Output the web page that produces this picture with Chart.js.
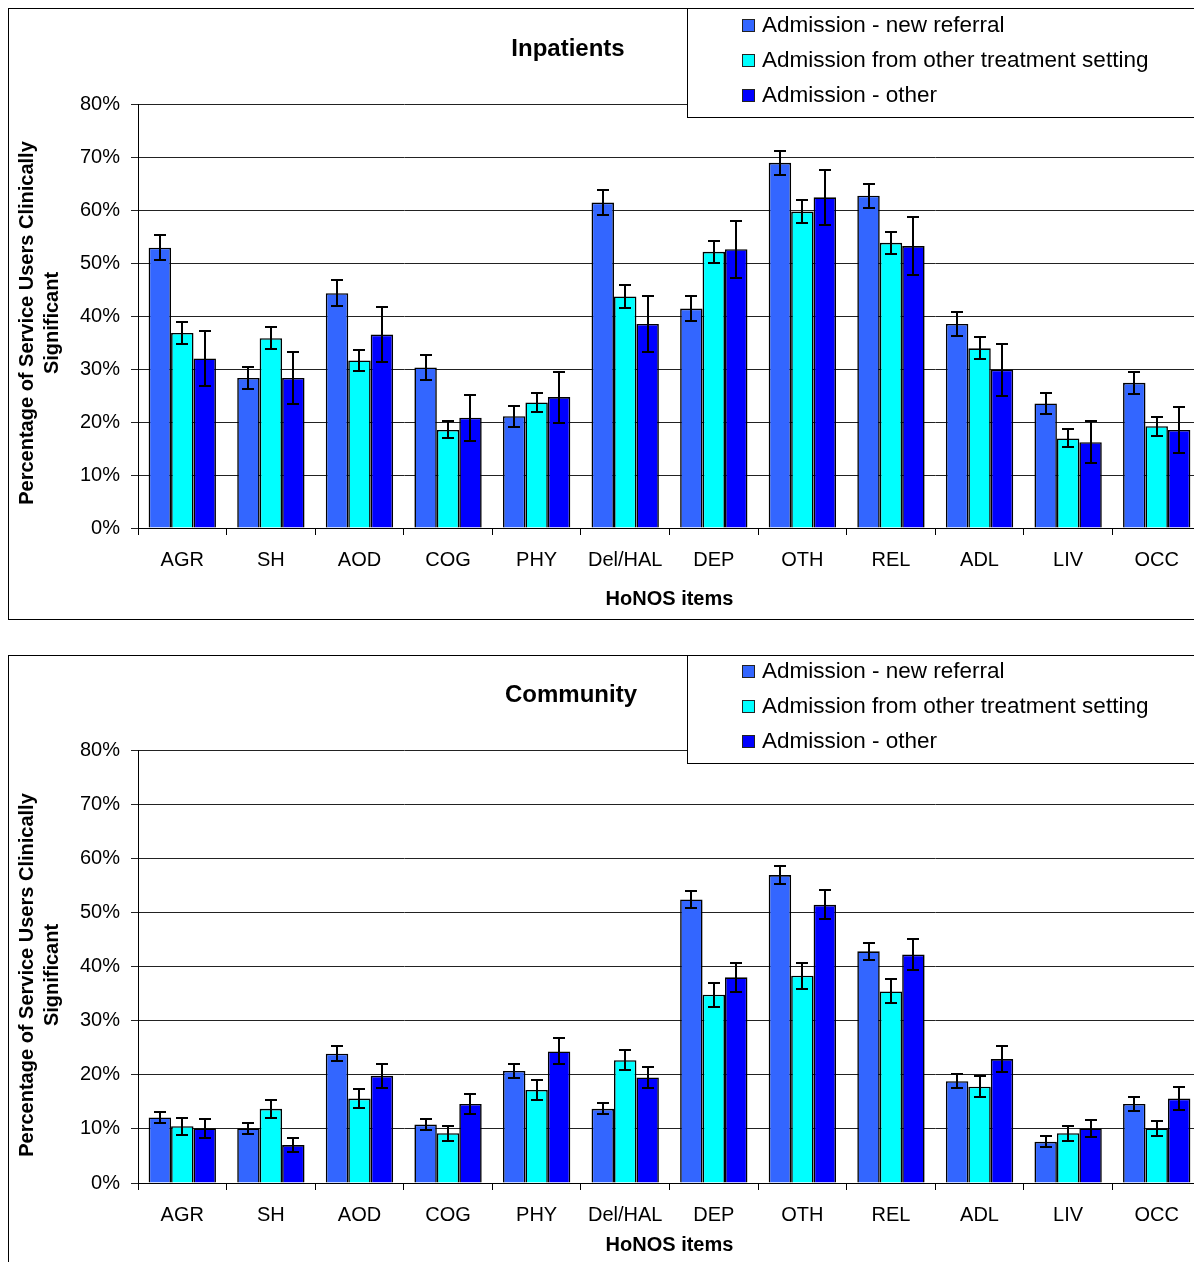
<!DOCTYPE html>
<html>
<head>
<meta charset="utf-8">
<script src="https://cdn.jsdelivr.net/npm/chart.js@4.4.1/dist/chart.umd.min.js"></script>
<style>
  body { margin: 0; background: #fff; }
  .panel { position: absolute; left: 8px; width: 1200px; height: 610px; border: 1px solid #000; background: #fff; }
  #p1 { top: 8px; }
  #p2 { top: 655px; }
  canvas { display: block; }
</style>
</head>
<body>
<div class="panel" id="p1"><canvas id="inpatients-chart" width="1200" height="610"></canvas></div>
<div class="panel" id="p2"><canvas id="community-chart" width="1200" height="610"></canvas></div>
<script>
const categories = ["AGR", "SH", "AOD", "COG", "PHY", "Del/HAL", "DEP", "OTH", "REL", "ADL", "LIV", "OCC"];
const seriesNames = ["Admission - new referral", "Admission from other treatment setting", "Admission - other"];
const seriesColors = ["#3366FF", "#00FFFF", "#0000FF"];
const yTicks = [0, 10, 20, 30, 40, 50, 60, 70, 80];

// Inpatients (% clinically significant) and error bar half-widths
const inpNew = [52.9, 28.3, 44.3, 30.3, 21.1, 61.4, 41.4, 68.9, 62.7, 38.5, 23.5, 27.4];
const inpNewErr = [2.3, 2.1, 2.4, 2.3, 2.0, 2.3, 2.4, 2.3, 2.3, 2.3, 2.0, 2.1];
const inpSetting = [36.8, 35.8, 31.6, 18.5, 23.7, 43.7, 52.1, 59.7, 53.8, 33.9, 16.9, 19.2];
const inpSettingErr = [2.1, 2.1, 2.0, 1.6, 1.8, 2.2, 2.1, 2.1, 2.1, 2.1, 1.7, 1.8];
const inpOther = [32.0, 28.3, 36.5, 20.8, 24.7, 38.5, 52.6, 62.4, 53.2, 29.9, 16.2, 18.5];
const inpOtherErr = [5.2, 4.9, 5.2, 4.3, 4.8, 5.2, 5.4, 5.2, 5.4, 4.9, 3.9, 4.3];

// Community
const comNew = [12.1, 10.1, 23.9, 10.8, 20.7, 13.7, 52.4, 56.9, 42.8, 18.8, 7.6, 14.6];
const comNewErr = [1.0, 1.0, 1.4, 1.0, 1.3, 1.0, 1.6, 1.6, 1.6, 1.3, 1.0, 1.3];
const comSetting = [10.5, 13.7, 15.6, 9.2, 17.2, 22.7, 34.8, 38.3, 35.4, 17.8, 9.2, 10.1];
const comSettingErr = [1.6, 1.6, 1.8, 1.4, 1.9, 1.9, 2.2, 2.4, 2.2, 1.9, 1.4, 1.4];
const comOther = [10.1, 7.0, 19.8, 14.6, 24.3, 19.5, 38.0, 51.4, 42.2, 22.9, 10.1, 15.6];
const comOtherErr = [1.7, 1.3, 2.2, 1.9, 2.4, 2.0, 2.7, 2.7, 2.9, 2.4, 1.6, 2.2];

const FONT = "'Liberation Sans', Arial, sans-serif";

const errorBars = {
  id: 'errorBars',
  afterDatasetsDraw(chart, args, opts) {
    const ctx = chart.ctx;
    const y = chart.scales.y;
    ctx.save();
    ctx.strokeStyle = '#000';
    ctx.lineWidth = 2;
    chart.data.datasets.forEach(function (ds, i) {
      const meta = chart.getDatasetMeta(i);
      meta.data.forEach(function (bar, j) {
        const v = ds.data[j], e = ds.errors[j];
        const top = Math.round(y.getPixelForValue(v + e));
        const bot = Math.round(y.getPixelForValue(v - e));
        const x = Math.round(bar.x);
        ctx.beginPath();
        ctx.moveTo(x, top); ctx.lineTo(x, bot);
        ctx.moveTo(x - 6, top); ctx.lineTo(x + 6, top);
        ctx.moveTo(x - 6, bot); ctx.lineTo(x + 6, bot);
        ctx.stroke();
      });
    });
    ctx.restore();
  }
};

const decor = {
  id: 'decor',
  afterDraw(chart, args, opts) {
    const ctx = chart.ctx;
    ctx.save();
    // panel title
    ctx.fillStyle = '#000';
    ctx.font = 'bold 24px ' + FONT;
    ctx.textAlign = 'center';
    ctx.textBaseline = 'middle';
    ctx.fillText(opts.title, opts.titleX, opts.titleY);

    // y axis title, two lines
    ctx.save();
    ctx.translate(18, opts.yTitleY);
    ctx.rotate(-Math.PI / 2);
    ctx.font = 'bold 20px ' + FONT;
    ctx.fillText("Percentage of Service Users Clinically", 0, 0);
    ctx.fillText("Significant", 0, 25);
    ctx.restore();

    // legend box
    ctx.fillStyle = '#fff';
    ctx.strokeStyle = '#000';
    ctx.lineWidth = 1;
    ctx.fillRect(678, -1, 700, opts.legendBottom + 1);
    ctx.strokeRect(678.5, -1, 700, opts.legendBottom + 1.5);
    ctx.font = '22.5px ' + FONT;
    ctx.textAlign = 'left';
    chart.data.datasets.forEach(function (ds, i) {
      const cy = opts.legendY + i * 35;
      ctx.fillStyle = ds.backgroundColor;
      ctx.fillRect(733, cy - 6, 13, 13);
      ctx.strokeStyle = '#222';
      ctx.strokeRect(733.5, cy - 5.5, 12, 12);
      ctx.fillStyle = '#000';
      ctx.fillText(ds.label, 753, cy + 1);
    });
    ctx.restore();
  }
};

function makeChart(canvasId, series, errors, cfg) {
  const datasets = series.map(function (data, i) {
    return {
      label: seriesNames[i],
      data: data,
      errors: errors[i],
      backgroundColor: seriesColors[i],
      borderColor: '#000',
      borderWidth: 1.6,
      categoryPercentage: 0.76,
      barPercentage: 1.0
    };
  });
  return new Chart(document.getElementById(canvasId), {
    type: 'bar',
    data: { labels: categories, datasets: datasets },
    plugins: [errorBars, decor],
    options: {
      responsive: false,
      animation: false,
      layout: { padding: { top: cfg.areaTop, right: 8, left: 0, bottom: 0 } },
      plugins: {
        legend: { display: false },
        tooltip: { enabled: false },
        decor: cfg.decor
      },
      scales: {
        x: {
          grid: { drawOnChartArea: false, drawTicks: true, tickLength: 7, color: '#000' },
          border: { color: '#000', width: 1 },
          ticks: { color: '#000', padding: 13, font: { family: FONT, size: 20 } },
          title: {
            display: true, text: 'HoNOS items', color: '#000',
            font: { family: FONT, size: 20, weight: 'bold' },
            padding: { top: 0, bottom: cfg.xTitlePad }
          },
          afterFit: function (scale) { scale.height = 610 - cfg.areaBottom; }
        },
        y: {
          min: 0, max: 80,
          afterBuildTicks: function (scale) { scale.ticks = yTicks.map(function (v) { return { value: v }; }); },
          grid: { color: '#222', lineWidth: 1, tickLength: 7 },
          border: { color: '#000', width: 1 },
          ticks: {
            color: '#000', padding: 11, font: { family: FONT, size: 20 },
            callback: function (v) { return v + '%'; }
          },
          afterFit: function (scale) { scale.width = 129; }
        }
      }
    }
  });
}

makeChart('inpatients-chart', [inpNew, inpSetting, inpOther], [inpNewErr, inpSettingErr, inpOtherErr], {
  areaTop: 95, areaBottom: 519, xTitlePad: 8,
  decor: { title: 'Inpatients', titleX: 559, titleY: 40, yTitleY: 314, legendY: 16, legendBottom: 108 }
});

makeChart('community-chart', [comNew, comSetting, comOther], [comNewErr, comSettingErr, comOtherErr], {
  areaTop: 94, areaBottom: 527, xTitlePad: 9,
  decor: { title: 'Community', titleX: 562, titleY: 39, yTitleY: 319, legendY: 15, legendBottom: 107 }
});
</script>
</body>
</html>
